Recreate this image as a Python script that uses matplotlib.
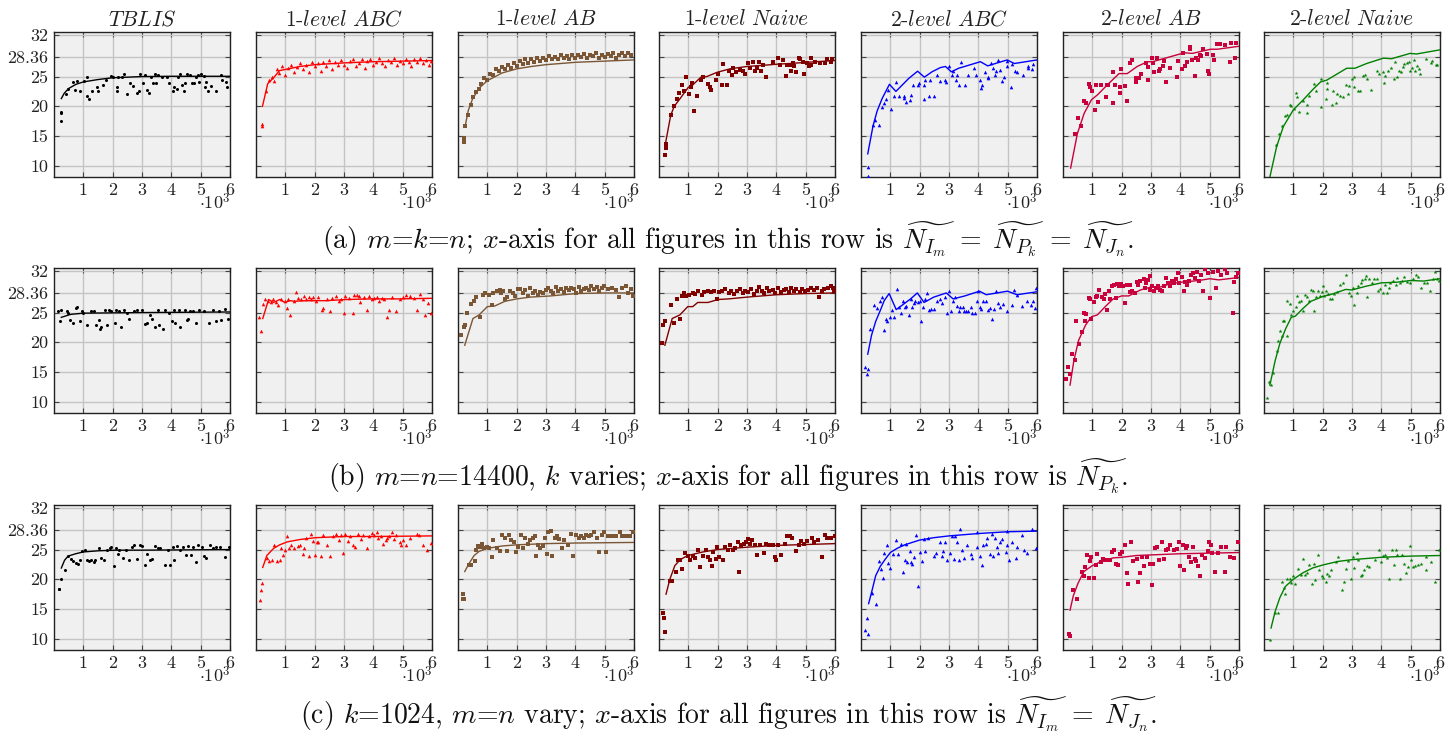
import matplotlib
matplotlib.use('Agg')
import matplotlib.pyplot as plt

plt.rcParams['font.family'] = ['cmr10', 'DejaVu Serif']
plt.rcParams['mathtext.fontset'] = 'cm'
plt.rcParams['axes.unicode_minus'] = False

# ---------------- labels / styles ----------------
titles = [r'$TBLIS$', r'1-$level\ ABC$', r'1-$level\ AB$', r'1-$level\ Naive$',
          r'2-$level\ ABC$', r'2-$level\ AB$', r'2-$level\ Naive$']
colors = ['#000000', '#ff0000', '#7a5634', '#800000', '#0000ff', '#c8003c', '#008000']
markers = ['o', '^', 's', 's', '^', 's', '*']
yticks = [10, 15, 20, 25, 28.36, 32]
ytick_labels = ['10', '15', '20', '25', '28.36', '32']
xticks = [1, 2, 3, 4, 5, 6]            # x values are in units of 10^3
xtick_labels = ['1', '2', '3', '4', '5', '6']
captions = [
    r'(a) $m$=$k$=$n$; $x$-axis for all figures in this row is $\widetilde{N_{I_m}}\;=\;\widetilde{N_{P_k}}\;=\;\widetilde{N_{J_n}}$.',
    r'(b) $m$=$n$=14400, $k$ varies; $x$-axis for all figures in this row is $\widetilde{N_{P_k}}$.',
    r'(c) $k$=1024, $m$=$n$ vary; $x$-axis for all figures in this row is $\widetilde{N_{I_m}}\;=\;\widetilde{N_{J_n}}$.',
]

# ================= ROW (a) =================
a_tblis_x = [0.23,0.24,0.23,0.41,0.49,0.64,0.72,0.8,0.89,1.03,1.11,1.11,1.2,1.28,1.45,1.51,1.68,1.77,1.93,2.02,2.14,2.16,2.19,2.31,2.39,2.48,2.59,2.68,2.82,2.91,2.93,3.02,3.10,3.16,3.25,3.30,3.36,3.44,3.48,3.56,3.67,3.86,3.93,4.07,4.09,4.18,4.24,4.30,4.35,4.43,4.48,4.55,4.64,4.70,4.77,4.84,4.91,4.95,5.0,5.11,5.15,5.18,5.26,5.34,5.52,5.68,5.72,5.86,5.89]
a_tblis_y = [19.1,18.8,17.6,22.1,22.9,24.1,22.7,24.2,22.6,24.3,24.9,21.7,21.3,22.5,23.2,22.5,23.6,24.5,25.1,24.9,22.5,23.2,24.9,25.0,25.4,22.1,24.0,23.4,22.3,22.5,25.4,24.0,25.3,22.7,22.3,24.9,24.0,25.5,23.9,25.3,25.0,24.9,23.9,22.5,23.2,22.9,24.9,25.4,23.6,22.6,23.9,25.5,25.3,23.9,24.0,24.9,25.3,24.1,25.4,25.1,23.3,24.1,22.5,23.4,22.6,25.3,24.4,24.1,23.3]
a_tblis_fx = [0.25,0.35,0.5,0.75,1.0,1.5,2.0,2.5,3.0,4.0,5.0,6.0]
a_tblis_fy = [21.3,22.2,23.0,23.7,24.1,24.5,24.8,24.9,25.0,25.05,25.05,25.05]

a_abc1_x = [0.2,0.22,0.35,0.45,0.55,0.62,0.7,0.8,0.9,1.0,1.1,1.2,1.3,1.4,1.5,1.6,1.7,1.8,1.9,2.0,2.1,2.2,2.3,2.4,2.5,2.6,2.7,2.8,2.9,3.0,3.1,3.2,3.3,3.4,3.5,3.6,3.7,3.8,3.9,4.0,4.1,4.2,4.3,4.4,4.5,4.6,4.7,4.8,4.9,5.0,5.1,5.2,5.3,5.4,5.5,5.6,5.7,5.8,5.9,5.95]
a_abc1_y = [17.0,16.6,22.6,24.5,25.0,24.3,26.2,25.6,26.8,25.2,26.5,27.0,25.8,26.6,27.3,26.3,27.0,25.7,27.5,26.7,27.2,25.9,27.4,26.8,27.8,26.2,27.5,26.9,27.8,27.0,26.4,27.6,27.9,26.8,27.3,28.0,26.5,27.6,27.9,26.9,27.5,28.1,27.2,26.7,27.8,27.4,28.2,26.9,27.7,27.3,28.0,27.5,26.8,27.9,27.4,28.1,27.2,27.8,26.9,27.6]
a_abc1_fx = [0.22,0.4,0.6,0.8,1.0,1.5,2.0,3.0,4.0,5.0,6.0]
a_abc1_fy = [20.0,23.8,24.8,26.0,26.2,26.7,27.0,27.3,27.5,27.6,27.7]

a_ab1_x = [0.2,0.2,0.25,0.35,0.45,0.5,0.6,0.7,0.8,0.9,1.0,1.1,1.2,1.3,1.4,1.5,1.6,1.7,1.8,1.9,2.0,2.1,2.2,2.3,2.4,2.5,2.6,2.7,2.8,2.9,3.0,3.1,3.2,3.3,3.4,3.5,3.6,3.7,3.8,3.9,4.0,4.1,4.2,4.3,4.4,4.5,4.6,4.7,4.8,4.9,5.0,5.1,5.2,5.3,5.4,5.5,5.6,5.7,5.8,5.9]
a_ab1_y = [14.0,14.6,16.7,18.5,20.2,21.5,22.4,22.9,23.8,24.8,24.5,25.5,25.2,26.2,25.9,26.6,26.2,27.0,26.5,27.3,26.8,27.6,27.1,27.9,27.3,28.0,27.5,28.2,27.6,28.1,27.8,28.4,27.9,28.3,28.0,28.6,28.1,28.5,27.9,28.6,28.2,28.7,28.3,28.8,28.1,28.7,28.4,28.9,28.2,28.6,28.3,28.8,28.5,28.9,28.2,28.6,28.9,28.4,29.0,28.6]
a_ab1_fx = [0.25,0.35,0.5,0.75,1.0,1.5,2.0,2.5,3.0,4.0,5.0,6.0]
a_ab1_fy = [16.8,19.3,21.3,23.2,24.3,25.6,26.3,26.7,27.0,27.4,27.6,27.8]

a_naive1_x = [0.2,0.23,0.23,0.4,0.52,0.63,0.69,0.77,0.86,0.92,1.02,1.08,1.14,1.2,1.28,1.43,1.49,1.68,1.74,1.77,1.94,2.02,2.14,2.17,2.31,2.4,2.48,2.51,2.63,2.76,2.88,2.93,3.05,3.1,3.22,3.27,3.33,3.42,3.47,3.53,3.65,3.9,4.07,4.13,4.24,4.32,4.35,4.47,4.5,4.58,4.61,4.67,4.76,4.81,4.92,4.95,5.03,5.13,5.17,5.18,5.32,5.49,5.66,5.72,5.85,5.89]
a_naive1_y = [11.8,12.9,13.6,18.5,20.0,21.2,22.2,23.5,22.6,25.0,22.0,23.3,23.9,19.2,21.8,24.5,24.9,23.7,23.2,22.7,24.4,25.5,23.6,27.1,23.5,25.9,25.2,26.4,25.7,26.1,25.9,25.5,27.2,26.5,27.4,25.9,26.5,27.4,25.9,26.9,25.0,27.4,28.1,26.9,27.8,25.1,26.9,26.9,26.0,27.3,26.7,25.7,28.2,27.9,27.4,25.5,27.2,26.7,28.1,26.9,27.4,27.2,27.3,28.0,27.4,28.0]
a_naive1_fx = [0.23,0.4,0.52,0.72,1.0,1.15,1.43,1.63,1.97,2.42,3.0,3.56,4.07,4.47,5.03,6.0]
a_naive1_fy = [14.0,18.5,20.0,21.3,23.2,23.6,24.9,25.0,25.7,26.3,26.7,26.9,27.1,27.2,27.4,27.7]

a_abc2_x = [0.23,0.23,0.41,0.49,0.63,0.72,0.8,0.86,0.91,1.02,1.11,1.2,1.31,1.45,1.48,1.55,1.68,1.72,1.77,1.94,1.97,2.14,2.16,2.17,2.31,2.36,2.48,2.59,2.68,2.88,2.91,3.01,3.10,3.14,3.25,3.27,3.33,3.42,3.53,3.64,3.86,3.93,4.07,4.09,4.13,4.24,4.32,4.33,4.43,4.5,4.56,4.6,4.67,4.75,4.81,4.89,4.98,4.98,5.11,5.16,5.24,5.32,5.51,5.69,5.69,5.83,5.86]
a_abc2_y = [9.8,8.3,16.8,17.7,16.8,19.9,20.6,21.2,22.7,19.5,21.7,24.1,21.8,21.8,21.4,20.8,21.1,21.9,23.5,23.6,24.0,21.2,23.6,24.4,21.8,24.5,21.7,25.2,24.3,24.4,24.1,26.7,25.3,26.0,24.5,25.3,23.5,27.5,23.5,25.2,26.4,25.2,24.5,23.1,23.6,25.8,24.7,25.0,27.2,26.4,25.2,26.0,27.8,26.1,24.3,24.9,26.7,27.7,23.3,27.1,26.0,25.7,25.2,26.7,26.4,26.2,27.1]
a_abc2_fx = [0.23,0.41,0.55,0.72,0.97,1.19,1.63,1.93,2.16,2.42,2.7,2.88,3.08,3.33,4.07,4.32,4.98,5.23,6.0]
a_abc2_fy = [12.0,16.7,19.2,21.3,23.7,22.5,24.7,25.9,24.9,25.8,26.5,26.7,25.8,26.4,27.5,26.8,27.8,27.2,27.8]

a_ab2_x = [0.4,0.51,0.63,0.72,0.8,0.89,0.92,1.0,1.09,1.11,1.2,1.28,1.45,1.49,1.53,1.7,1.72,1.77,1.93,1.94,1.97,2.11,2.17,2.28,2.36,2.48,2.48,2.59,2.67,2.82,2.9,2.91,3.02,3.08,3.1,3.22,3.27,3.31,3.42,3.44,3.52,3.64,3.88,3.92,4.05,4.1,4.15,4.24,4.32,4.33,4.41,4.49,4.55,4.6,4.67,4.72,4.78,4.9,4.95,4.98,5.13,5.15,5.26,5.34,5.51,5.69,5.72,5.86,5.89]
a_ab2_y = [15.3,18.1,16.7,20.9,20.6,23.7,23.3,22.6,19.3,23.6,20.7,23.5,21.6,23.5,23.6,25.7,20.5,23.6,23.2,22.2,26.2,23.4,20.9,27.2,27.8,24.1,24.7,24.7,25.4,27.2,26.6,24.5,28.1,27.2,25.7,28.1,26.0,26.2,26.8,27.7,24.1,26.4,24.9,27.7,26.3,29.0,26.8,27.5,29.9,29.6,27.8,25.1,28.2,27.8,28.6,28.4,29.6,28.8,26.0,25.5,28.6,27.8,30.4,30.4,30.3,27.5,30.6,28.2,30.6]
a_ab2_fx = [0.26,0.49,0.72,0.97,1.17,1.51,1.91,2.19,2.53,2.88,3.05,3.56,4.13,4.41,5.03,5.26,6.0]
a_ab2_fy = [9.6,15.4,18.8,21.1,21.9,23.6,25.5,25.5,26.7,27.5,27.5,28.2,29.0,28.9,29.6,29.6,30.1]

a_naive2_x = [0.41,0.52,0.63,0.72,0.8,0.89,0.92,1.03,1.09,1.11,1.2,1.32,1.45,1.45,1.55,1.7,1.77,1.93,1.94,2.14,2.16,2.11,2.31,2.36,2.45,2.48,2.59,2.68,2.78,2.9,2.88,3.01,3.07,3.07,3.22,3.27,3.39,3.44,3.52,3.64,3.86,3.93,4.07,4.1,4.14,4.24,4.32,4.43,4.47,4.52,4.6,4.66,4.73,4.78,4.86,4.94,4.98,5.03,5.11,5.16,5.2,5.27,5.32,5.51,5.68,5.72,5.85,5.89]
a_naive2_y = [13.5,15.4,16.7,18.4,18.6,20.2,20.0,19.5,22.2,21.5,19.1,20.9,20.2,18.8,21.7,23.7,22.6,19.8,24.6,23.9,22.9,21.2,20.2,22.5,20.5,22.1,21.8,21.5,23.6,23.4,22.1,24.6,24.9,23.3,22.6,22.5,25.1,25.3,24.6,22.7,26.0,25.4,25.7,24.0,25.1,26.0,26.4,24.6,27.5,24.9,25.9,25.7,26.6,27.1,27.3,27.5,26.0,26.4,27.8,26.0,26.7,26.2,25.4,27.9,27.2,27.7,26.9,26.9]
a_naive2_fx = [0.2,0.43,0.66,1.0,1.34,1.68,1.93,2.14,2.48,2.82,3.1,3.5,4.07,4.35,4.98,5.2,6.0]
a_naive2_fy = [8.1,13.2,16.6,19.4,21.1,22.9,24.1,24.4,25.4,26.4,26.4,27.2,28.1,28.0,28.9,28.8,29.5]

# ================= ROW (b) =================
b_tblis_x = [0.13,0.25,0.22,0.43,0.48,0.53,0.65,0.74,0.78,0.88,0.95,1.0,1.14,1.26,1.35,1.44,1.53,1.58,1.61,1.75,1.79,1.87,1.96,2.08,2.13,2.22,2.27,2.39,2.48,2.57,2.74,2.83,3.0,3.09,3.18,3.27,3.35,3.44,3.53,3.57,3.7,3.79,3.91,4.02,4.09,4.14,4.26,4.31,4.45,4.52,4.57,4.62,4.75,4.83,4.96,5.1,5.27,5.41,5.53,5.62,5.71,5.83,5.93]
b_tblis_y = [25.3,25.5,23.5,25.3,24.9,23.8,23.2,25.7,26.0,23.5,25.2,25.0,22.9,25.3,25.3,22.9,23.8,22.3,22.6,25.5,22.9,25.5,25.2,23.2,25.5,25.2,22.6,25.5,24.9,24.0,25.3,25.5,25.5,23.1,23.3,24.6,23.9,22.6,25.5,22.9,22.3,25.5,25.0,23.5,25.5,23.2,25.5,22.6,25.5,23.8,24.0,25.3,25.2,23.2,25.5,25.3,23.2,25.5,23.5,25.3,23.8,25.6,24.0]
b_tblis_fx = [0.25,0.57,1.0,3.0,6.0]
b_tblis_fy = [24.2,24.7,24.9,25.0,25.1]

b_abc1_x = [0.11,0.16,0.23,0.29,0.41,0.5,0.58,0.67,0.76,0.84,0.98,1.05,1.1,1.16,1.28,1.37,1.42,1.54,1.65,1.72,1.8,1.86,1.94,2.03,2.12,2.24,2.29,2.42,2.52,2.59,2.73,2.82,2.91,3.0,3.05,3.17,3.29,3.34,3.43,3.51,3.56,3.68,3.77,3.86,3.94,4.03,4.12,4.2,4.29,4.38,4.47,4.55,4.64,4.78,4.9,5.02,5.13,5.25,5.37,5.48,5.6,5.69,5.77,5.86,5.95]
b_abc1_y = [24.2,21.9,26.4,27.2,26.9,26.7,27.3,26.7,26.3,27.3,26.9,25.7,27.2,24.6,27.0,28.4,27.4,27.3,27.8,27.3,27.6,27.2,27.7,26.9,27.6,25.5,25.7,27.2,25.2,27.4,27.8,26.9,27.2,25.0,27.8,27.4,25.0,28.0,28.0,27.8,26.7,27.7,25.5,27.8,27.3,27.4,27.7,26.9,27.4,27.3,24.2,25.5,27.6,25.2,27.2,27.7,28.0,27.8,27.4,25.5,28.1,27.2,24.6,26.6,25.0]
b_abc1_fx = [0.23,0.43,0.6,0.81,0.98,1.16,1.33,1.68,2.38,3.08,3.95,4.83,6.0]
b_abc1_fy = [24.0,27.2,26.7,27.2,26.7,27.0,26.9,27.0,27.0,27.2,27.3,27.3,27.4]

b_ab1_x = [0.11,0.2,0.23,0.32,0.46,0.55,0.63,0.76,0.86,0.93,1.04,1.16,1.21,1.33,1.42,1.47,1.54,1.6,1.68,1.77,1.86,1.94,2.03,2.12,2.21,2.29,2.38,2.47,2.55,2.64,2.73,2.81,2.9,2.99,3.08,3.16,3.25,3.34,3.42,3.51,3.6,3.68,3.77,3.86,3.95,4.03,4.12,4.21,4.29,4.38,4.47,4.55,4.64,4.73,4.81,4.9,4.99,5.11,5.25,5.39,5.48,5.6,5.74,5.81,5.91,5.95]
b_ab1_y = [21.2,22.6,22.9,25.0,26.5,27.0,27.7,24.2,28.0,28.3,28.0,26.3,28.3,28.6,28.8,28.3,28.6,27.3,27.7,28.6,28.3,27.8,28.9,28.9,28.3,28.8,27.8,29.1,28.3,28.6,28.0,28.4,28.3,28.8,29.1,28.6,28.3,29.3,28.6,28.9,28.4,29.1,28.8,29.1,28.9,28.3,29.3,28.6,29.0,29.1,28.8,29.4,29.0,29.3,28.6,29.1,29.5,28.9,29.1,28.8,27.6,29.1,29.4,28.3,28.9,27.8]
b_ab1_fx = [0.23,0.51,0.72,1.0,1.25,1.6,2.0,2.46,3.16,4.03,5.0,6.0]
b_ab1_fy = [19.5,24.0,24.6,26.0,26.1,26.9,27.3,27.6,27.8,28.2,28.3,28.3]

b_naive1_x = [0.1,0.14,0.19,0.42,0.51,0.63,0.71,0.77,0.84,0.91,1.02,1.15,1.24,1.32,1.46,1.55,1.67,1.78,1.88,1.97,2.06,2.16,2.26,2.37,2.46,2.54,2.65,2.75,2.86,2.93,3.03,3.15,3.24,3.33,3.41,3.5,3.59,3.68,3.76,3.87,3.97,4.06,4.15,4.25,4.34,4.42,4.49,4.6,4.68,4.81,4.89,4.98,5.07,5.19,5.3,5.38,5.47,5.54,5.64,5.77,5.85,5.92,5.97]
b_naive1_y = [19.8,22.9,23.5,26.2,23.2,27.3,23.9,27.8,28.3,27.8,28.0,28.3,28.2,28.6,28.0,28.4,28.6,28.4,28.6,27.2,28.4,28.6,28.9,28.3,28.6,28.2,28.6,28.9,28.3,28.6,28.4,28.9,28.2,28.6,29.3,28.6,28.3,29.1,28.6,28.8,28.3,29.1,28.4,28.8,28.9,28.4,29.1,28.6,29.0,28.4,28.9,28.6,28.8,29.1,28.8,29.1,27.6,28.6,28.9,29.1,29.5,29.1,28.6]
b_naive1_fx = [0.2,0.45,0.71,0.98,1.15,1.32,1.67,2.02,2.37,3.0,4.0,5.0,6.0]
b_naive1_fy = [19.5,24.0,24.6,26.0,26.0,26.7,26.7,27.2,27.3,27.6,28.0,28.2,28.3]

b_abc2_x = [0.13,0.19,0.23,0.32,0.46,0.54,0.66,0.7,0.79,0.85,0.89,0.99,1.05,1.12,1.23,1.29,1.36,1.42,1.49,1.55,1.62,1.69,1.73,1.79,1.85,1.93,2.02,2.06,2.11,2.19,2.25,2.32,2.38,2.48,2.59,2.68,2.77,2.88,2.94,3.01,3.08,3.14,3.21,3.28,3.34,3.38,3.47,3.52,3.57,3.65,3.74,3.8,3.87,3.94,4.0,4.04,4.1,4.17,4.27,4.33,4.4,4.47,4.53,4.6,4.66,4.73,4.84,4.99,5.15,5.23,5.32,5.5,5.66,5.79,5.88,5.92,5.97]
b_abc2_y = [15.9,14.7,15.5,22.3,26.2,25.7,27.0,27.6,22.0,23.9,23.6,24.3,25.5,24.3,29.0,26.0,25.0,26.9,26.0,26.1,24.6,27.3,26.0,26.6,26.9,26.7,26.9,23.5,26.0,27.3,28.3,25.5,25.6,25.6,26.9,27.3,26.6,27.7,24.9,28.6,25.2,26.9,27.7,26.1,25.2,25.9,26.0,25.2,25.2,25.3,26.0,24.9,25.0,26.9,28.6,26.0,25.6,26.9,26.9,25.5,25.7,23.9,25.6,28.6,26.6,26.0,26.5,25.2,26.3,28.8,28.0,26.1,26.9,26.3,27.0,25.7,29.1]
b_abc2_fx = [0.23,0.36,0.5,0.67,0.79,0.96,1.2,1.42,1.69,1.92,2.15,2.48,2.91,3.14,3.54,4.04,4.27,4.99,5.32,6.0]
b_abc2_fy = [18.0,21.2,23.5,25.5,27.0,28.2,25.5,26.3,27.3,28.3,26.7,27.6,28.3,27.3,27.8,28.6,28.0,28.6,28.0,28.5]

b_ab2_x = [0.11,0.17,0.24,0.31,0.41,0.44,0.53,0.64,0.71,0.75,0.8,0.87,0.93,0.97,1.04,1.11,1.17,1.24,1.33,1.4,1.44,1.51,1.57,1.6,1.68,1.75,1.81,1.84,1.91,1.97,2.04,2.11,2.17,2.27,2.27,2.35,2.44,2.51,2.57,2.64,2.75,2.8,2.84,2.91,2.97,2.97,3.04,3.11,3.17,3.24,3.31,3.37,3.44,3.51,3.57,3.64,3.71,3.77,3.84,3.91,3.97,4.04,4.11,4.15,4.24,4.31,4.37,4.44,4.51,4.57,4.64,4.71,4.77,4.84,4.93,5.01,5.11,5.2,5.28,5.37,5.51,5.6,5.81,5.84,5.91,5.97]
b_ab2_y = [13.8,15.8,14.7,18.0,17.0,23.5,19.7,21.8,25.0,23.5,24.8,27.4,27.3,24.0,26.7,27.7,27.8,28.8,27.6,27.3,28.2,25.5,28.6,27.2,29.5,29.7,27.4,29.8,29.5,29.8,29.5,26.6,29.7,29.7,28.4,28.6,28.3,30.1,29.7,30.3,30.6,29.1,29.9,30.5,31.1,28.8,29.4,28.6,29.1,29.5,28.8,28.6,29.4,30.9,30.0,29.5,30.3,29.9,30.6,31.7,30.0,31.0,28.6,30.1,29.7,30.3,31.3,31.6,30.9,31.8,30.3,31.3,28.6,32.3,31.6,27.4,31.8,29.1,32.0,31.4,32.3,31.7,25.0,30.1,31.0,31.7]
b_ab2_fx = [0.24,0.37,0.53,0.77,0.97,1.17,1.44,1.71,2.0,2.24,2.64,3.0,3.31,3.71,4.0,4.64,5.0,5.31,6.0]
b_ab2_fy = [12.8,16.9,20.3,22.9,24.3,24.6,26.0,27.3,27.8,27.8,28.8,29.3,29.3,29.9,30.1,30.4,30.7,30.5,30.9]

b_naive2_x = [0.11,0.16,0.24,0.3,0.43,0.47,0.54,0.6,0.64,0.67,0.77,0.8,0.87,0.93,1.0,1.09,1.13,1.2,1.27,1.33,1.4,1.46,1.53,1.6,1.66,1.7,1.76,1.84,1.9,1.97,2.02,2.06,2.13,2.19,2.26,2.33,2.39,2.5,2.59,2.68,2.81,2.9,2.95,3.03,3.06,3.16,3.22,3.3,3.35,3.43,3.48,3.52,3.59,3.69,3.75,3.85,3.88,3.96,4.05,4.11,4.18,4.27,4.31,4.41,4.49,4.54,4.62,4.71,4.78,4.89,4.98,5.07,5.18,5.24,5.34,5.44,5.54,5.67,5.76,5.83,5.89,5.96]
b_naive2_y = [10.6,13.4,12.8,14.8,18.5,20.3,21.9,21.0,23.5,23.6,21.0,26.9,26.5,24.6,25.3,26.0,27.8,26.7,27.0,25.3,28.0,27.7,26.9,28.8,28.6,25.3,27.7,28.6,27.8,28.4,29.5,27.8,28.6,28.2,27.3,27.2,28.2,28.4,29.7,30.0,31.4,28.3,27.8,29.1,26.3,28.3,29.5,29.9,30.5,30.6,31.1,27.6,30.6,29.9,30.6,30.7,28.6,29.0,28.3,29.7,28.3,29.1,30.0,30.3,29.7,30.9,29.9,30.3,31.0,30.1,30.0,30.6,31.3,31.0,29.1,29.9,30.0,28.6,30.6,31.8,30.6,30.3]
b_naive2_fx = [0.2,0.38,0.54,0.74,0.93,1.07,1.33,1.6,2.0,2.32,2.79,3.0,3.45,4.0,4.51,5.0,5.44,6.0]
b_naive2_fy = [12.8,16.9,19.8,22.3,24.2,24.4,25.7,26.9,27.7,28.1,28.9,28.8,29.4,30.0,30.1,30.4,30.3,30.7]

# ================= ROW (c) =================
c_tblis_x = [0.17,0.18,0.25,0.36,0.48,0.57,0.65,0.74,0.83,0.88,0.97,1.05,1.12,1.18,1.26,1.35,1.4,1.53,1.61,1.7,1.82,1.91,1.96,2.05,2.1,2.17,2.22,2.34,2.45,2.57,2.66,2.74,2.83,2.92,3.0,3.09,3.18,3.27,3.35,3.44,3.53,3.61,3.79,3.88,3.96,4.05,4.1,4.19,4.31,4.4,4.49,4.57,4.66,4.75,4.83,4.92,5.06,5.1,5.18,5.31,5.41,5.53,5.66,5.83,5.97]
c_tblis_y = [18.4,18.3,20.1,21.5,23.9,23.4,23.0,22.8,22.6,23.2,24.7,25.0,23.2,23.0,23.3,22.9,23.2,25.3,23.6,23.3,24.9,25.2,25.4,22.3,25.2,24.3,24.9,23.6,24.9,23.3,25.4,25.7,23.4,25.7,25.6,22.4,24.3,23.2,23.4,25.6,25.2,25.3,22.4,24.9,22.4,25.4,23.3,25.6,25.0,25.4,24.1,25.6,24.1,25.4,22.9,25.7,25.4,23.9,23.6,25.8,25.3,25.4,25.4,23.7,25.4]
c_tblis_fx = [0.25,0.36,0.48,0.74,1.0,1.52,2.13,3.0,6.0]
c_tblis_fy = [21.9,23.2,23.9,24.3,24.6,24.8,24.9,24.9,25.0]

c_abc1_x = [0.15,0.18,0.2,0.37,0.46,0.55,0.63,0.72,0.81,0.84,0.93,0.98,1.07,1.12,1.21,1.28,1.42,1.51,1.59,1.64,1.72,1.8,1.86,1.94,2.0,2.07,2.12,2.21,2.29,2.42,2.52,2.64,2.73,2.82,2.9,2.95,3.04,3.12,3.22,3.29,3.38,3.47,3.57,3.64,3.77,3.86,3.94,4.03,4.12,4.15,4.26,4.33,4.42,4.47,4.55,4.64,4.69,4.78,4.9,4.95,5.02,5.13,5.25,5.48,5.55,5.69,5.83,5.95]
c_abc1_y = [16.5,18.2,19.3,23.6,23.0,23.2,25.8,23.0,23.2,25.3,24.1,24.9,27.2,25.2,25.8,25.3,25.6,25.8,24.3,25.2,26.9,24.0,27.7,26.4,24.1,26.2,26.3,23.9,27.4,25.8,23.9,27.2,27.6,26.6,27.4,24.5,27.6,26.4,27.2,25.7,25.4,27.6,26.8,27.4,25.2,27.2,27.8,27.4,28.0,27.0,27.2,26.0,26.6,27.0,27.2,27.9,26.8,27.4,26.3,25.7,26.6,25.7,27.0,27.6,27.4,25.7,24.9,26.1]
c_abc1_fx = [0.23,0.37,0.6,0.81,1.07,1.51,2.03,3.0,4.0,6.0]
c_abc1_fy = [22.0,24.0,25.2,25.8,26.3,26.7,27.0,27.2,27.2,27.3]

c_ab1_x = [0.16,0.16,0.2,0.37,0.46,0.58,0.63,0.69,0.76,0.83,0.9,0.98,1.07,1.16,1.21,1.33,1.42,1.5,1.59,1.68,1.73,1.8,1.9,1.97,2.06,2.15,2.2,2.29,2.38,2.46,2.55,2.64,2.67,2.73,2.81,2.9,2.95,3.02,3.08,3.16,3.2,3.29,3.36,3.46,3.53,3.63,3.75,3.84,3.93,4.03,4.12,4.21,4.29,4.38,4.47,4.55,4.64,4.73,4.81,4.9,4.99,5.04,5.11,5.25,5.39,5.51,5.6,5.74,5.86,5.95]
c_ab1_y = [17.6,16.6,16.6,22.4,22.4,23.0,24.9,25.6,25.4,26.0,25.2,25.4,25.2,23.7,26.6,25.3,24.7,27.5,26.9,24.7,27.5,26.6,26.3,24.6,25.4,27.4,25.2,27.0,26.0,26.6,27.0,27.3,23.9,25.7,25.2,25.6,26.9,24.3,27.9,28.1,24.0,26.9,27.2,26.8,25.2,26.6,25.8,27.7,24.0,27.4,26.9,27.2,26.9,27.5,27.2,27.4,28.0,26.9,24.6,27.5,27.9,24.6,27.3,27.2,27.3,27.9,27.2,27.3,27.2,27.9]
c_ab1_fx = [0.23,0.37,0.55,0.72,1.0,1.5,2.0,3.0,4.0,6.0]
c_ab1_fy = [21.3,22.6,24.0,24.7,25.2,25.6,25.8,26.0,26.1,26.2]

c_naive1_x = [0.14,0.17,0.2,0.36,0.45,0.59,0.66,0.73,0.8,0.89,0.98,1.06,1.15,1.24,1.32,1.41,1.5,1.59,1.68,1.73,1.82,1.85,1.94,1.99,2.06,2.17,2.24,2.34,2.41,2.52,2.59,2.69,2.73,2.81,2.9,2.97,3.04,3.11,3.17,3.26,3.34,3.43,3.57,3.64,3.75,3.87,3.96,3.98,4.05,4.17,4.29,4.36,4.47,4.54,4.68,4.76,4.85,4.94,5.06,5.2,5.29,5.41,5.56,5.65,5.73,5.87,6.0]
c_naive1_y = [14.3,13.5,11.2,19.7,19.7,21.3,23.2,23.2,21.7,24.5,24.0,23.2,24.0,23.6,24.9,22.0,24.0,25.0,23.7,23.2,22.2,24.6,23.4,25.4,23.7,23.3,25.4,25.0,25.7,25.0,25.3,26.3,21.2,25.7,26.0,26.3,26.8,26.0,26.6,25.7,24.1,25.8,24.5,26.0,25.8,25.8,23.7,23.2,25.8,24.1,26.0,27.2,27.2,26.9,24.7,25.7,26.4,26.0,26.4,27.0,26.3,26.6,23.7,27.5,26.9,27.0,27.2]
c_naive1_fx = [0.24,0.37,0.54,0.72,0.98,1.5,1.99,3.0,4.0,6.0]
c_naive1_fy = [17.5,20.0,22.3,23.3,24.0,24.6,25.0,25.4,25.7,26.0]

c_abc2_x = [0.14,0.19,0.23,0.37,0.5,0.63,0.67,0.74,0.8,0.89,0.92,0.99,1.09,1.19,1.27,1.36,1.42,1.49,1.53,1.58,1.66,1.69,1.75,1.82,1.89,1.95,2.02,2.08,2.15,2.19,2.28,2.48,2.55,2.68,2.75,2.81,2.88,2.94,3.04,3.11,3.17,3.21,3.28,3.34,3.38,3.44,3.52,3.61,3.74,3.8,3.94,3.97,4.07,4.13,4.17,4.27,4.31,4.4,4.47,4.5,4.57,4.62,4.66,4.73,4.8,4.93,4.97,4.99,5.06,5.15,5.28,5.33,5.5,5.55,5.66,5.82,5.96]
c_abc2_y = [11.4,13.5,10.8,17.7,15.8,23.0,21.7,20.3,24.5,25.8,22.8,21.9,24.3,26.6,24.3,26.0,21.2,23.3,26.0,22.9,24.7,22.9,22.6,23.7,27.4,18.9,24.6,23.0,26.8,24.7,26.9,23.9,24.5,26.2,24.0,24.7,26.2,23.3,24.5,27.2,23.4,27.2,26.2,23.3,28.4,24.9,23.6,25.8,24.3,23.6,28.0,25.4,23.9,22.4,25.8,26.0,26.9,24.3,27.7,23.9,26.9,25.4,24.5,26.2,26.8,24.6,25.8,28.1,23.2,26.2,23.6,25.4,27.5,25.0,24.5,28.5,25.2]
c_abc2_fx = [0.26,0.37,0.5,0.66,0.83,1.0,1.23,1.49,2.0,2.48,3.0,4.0,5.0,6.0]
c_abc2_fy = [15.9,18.0,20.6,22.2,23.4,24.5,25.2,25.8,26.6,27.0,27.3,27.7,28.0,28.1]

c_ab2_x = [0.21,0.24,0.35,0.47,0.64,0.71,0.75,0.81,0.88,0.93,0.97,1.07,1.11,1.17,1.28,1.37,1.44,1.48,1.55,1.6,1.68,1.75,1.81,1.87,1.95,2.0,2.11,2.17,2.21,2.31,2.37,2.51,2.57,2.64,2.71,2.77,2.88,2.97,3.04,3.08,3.15,3.2,3.28,3.37,3.44,3.51,3.57,3.64,3.77,3.87,3.97,4.0,4.08,4.13,4.2,4.24,4.31,4.35,4.44,4.51,4.53,4.61,4.67,4.75,4.84,4.93,4.99,5.04,5.08,5.17,5.28,5.37,5.51,5.57,5.68,5.84,5.97]
c_ab2_y = [10.8,10.5,18.2,16.6,21.2,20.5,22.0,24.1,20.3,23.0,23.7,20.3,22.4,24.3,22.9,23.4,23.3,23.2,23.3,23.2,24.6,25.0,22.6,22.4,24.3,24.6,25.8,21.1,19.2,26.2,23.0,23.4,19.6,21.1,23.7,22.3,23.8,22.6,19.0,22.6,25.3,25.5,23.2,26.3,23.4,25.0,25.1,25.7,24.9,25.1,26.3,22.2,25.8,21.6,25.3,25.6,23.7,22.9,25.5,23.4,23.0,22.2,20.5,24.1,23.6,24.7,26.3,25.8,24.5,21.3,24.5,25.5,21.3,25.5,23.7,23.6,26.3]
c_ab2_fx = [0.24,0.35,0.51,0.71,1.0,1.31,1.71,2.0,2.51,3.0,4.0,5.0,6.0]
c_ab2_fy = [14.8,17.2,19.3,21.3,22.3,23.0,23.6,23.7,24.0,24.1,24.3,24.4,24.5]

c_naive2_x = [0.2,0.38,0.47,0.63,0.67,0.73,0.8,0.87,0.93,1.0,1.07,1.17,1.27,1.33,1.4,1.46,1.53,1.62,1.7,1.73,1.84,1.89,1.97,2.02,2.1,2.15,2.2,2.28,2.46,2.52,2.65,2.72,2.79,2.85,2.95,3.03,3.08,3.16,3.21,3.29,3.35,3.42,3.51,3.58,3.78,3.92,3.98,4.05,4.11,4.18,4.27,4.35,4.44,4.49,4.54,4.65,4.71,4.78,4.84,4.91,4.98,5.02,5.07,5.15,5.24,5.34,5.51,5.51,5.68,5.84,5.97]
c_naive2_y = [9.8,14.3,14.3,19.6,18.6,17.6,20.0,20.1,19.3,20.6,19.2,21.7,20.7,23.4,20.7,21.1,22.4,19.2,22.6,19.9,24.1,21.5,20.6,20.3,19.6,20.9,20.5,21.5,22.9,23.7,18.2,19.6,21.7,23.0,20.0,23.7,21.9,24.5,23.2,20.6,20.7,21.5,22.2,22.0,23.3,24.9,22.9,23.9,24.1,23.6,20.0,25.0,22.4,25.0,24.1,20.0,24.1,22.6,21.1,22.0,25.6,23.2,22.0,22.2,22.4,22.6,23.7,21.6,22.9,19.6,24.9]
c_naive2_fx = [0.24,0.38,0.54,0.73,1.0,1.33,1.66,2.0,2.52,3.0,4.0,5.0,6.0]
c_naive2_fy = [11.8,14.6,16.9,18.8,20.0,21.1,21.9,22.4,23.0,23.3,23.7,23.9,24.0]

rows = [
    [(a_tblis_x, a_tblis_y, a_tblis_fx, a_tblis_fy), (a_abc1_x, a_abc1_y, a_abc1_fx, a_abc1_fy),
     (a_ab1_x, a_ab1_y, a_ab1_fx, a_ab1_fy), (a_naive1_x, a_naive1_y, a_naive1_fx, a_naive1_fy),
     (a_abc2_x, a_abc2_y, a_abc2_fx, a_abc2_fy), (a_ab2_x, a_ab2_y, a_ab2_fx, a_ab2_fy),
     (a_naive2_x, a_naive2_y, a_naive2_fx, a_naive2_fy)],
    [(b_tblis_x, b_tblis_y, b_tblis_fx, b_tblis_fy), (b_abc1_x, b_abc1_y, b_abc1_fx, b_abc1_fy),
     (b_ab1_x, b_ab1_y, b_ab1_fx, b_ab1_fy), (b_naive1_x, b_naive1_y, b_naive1_fx, b_naive1_fy),
     (b_abc2_x, b_abc2_y, b_abc2_fx, b_abc2_fy), (b_ab2_x, b_ab2_y, b_ab2_fx, b_ab2_fy),
     (b_naive2_x, b_naive2_y, b_naive2_fx, b_naive2_fy)],
    [(c_tblis_x, c_tblis_y, c_tblis_fx, c_tblis_fy), (c_abc1_x, c_abc1_y, c_abc1_fx, c_abc1_fy),
     (c_ab1_x, c_ab1_y, c_ab1_fx, c_ab1_fy), (c_naive1_x, c_naive1_y, c_naive1_fx, c_naive1_fy),
     (c_abc2_x, c_abc2_y, c_abc2_fx, c_abc2_fy), (c_ab2_x, c_ab2_y, c_ab2_fx, c_ab2_fy),
     (c_naive2_x, c_naive2_y, c_naive2_fx, c_naive2_fy)],
]

# ---------------- layout ----------------
FW, FH = 1450, 738
fig = plt.figure(figsize=(FW / 100, FH / 100), dpi=100)
col_left = [54, 256, 458, 659, 861, 1063, 1264]
row_top = [32, 268, 505]
AW, AH = 176, 145
caption_y = [240, 477, 715]
marker_sizes = {'o': 2.2, '^': 2.6, 's': 2.35, '*': 3.0}

for r, row in enumerate(rows):
    for c, (px, py, fx, fy) in enumerate(row):
        ax = fig.add_axes([col_left[c] / FW, 1 - (row_top[r] + AH) / FH, AW / FW, AH / FH])
        ax.set_facecolor('#f0f0f0')
        ax.plot(fx, fy, color=colors[c], lw=1.0, zorder=3)
        pts, = ax.plot(px, py, ls='none', marker=markers[c], ms=marker_sizes[markers[c]],
                       color=colors[c], mew=0, zorder=4)
        pts.set_snap(False)
        ax.set_xlim(0, 6)
        ax.set_ylim(8.1, 32.5)
        ax.set_xticks(xticks)
        ax.set_xticklabels(xtick_labels)
        ax.set_yticks(yticks)
        ax.set_yticklabels(ytick_labels)
        ax.grid(True, color='#c4c4c4', lw=1.0, zorder=0)
        ax.set_axisbelow(True)
        ax.tick_params(direction='in', top=True, right=True, length=3.5, width=0.8,
                       labelsize=13, pad=4, colors='#444444', labelcolor='#222222')
        if c > 0:
            ax.tick_params(labelleft=False)
        for sp in ax.spines.values():
            sp.set_color('#222222')
            sp.set_linewidth(1.0)
        ax.text(0.915, -0.175, r'$\cdot 10^3$', transform=ax.transAxes, ha='center',
                va='center', fontsize=13, color='#222222')
        if r == 0:
            ax.set_title(titles[c], fontsize=15.5, pad=5, color='#222222')
    fig.text(0.502, 1 - caption_y[r] / FH, captions[r], ha='center', va='center',
             fontsize=20, color='#111111')

fig.savefig('out.png', dpi=100)
